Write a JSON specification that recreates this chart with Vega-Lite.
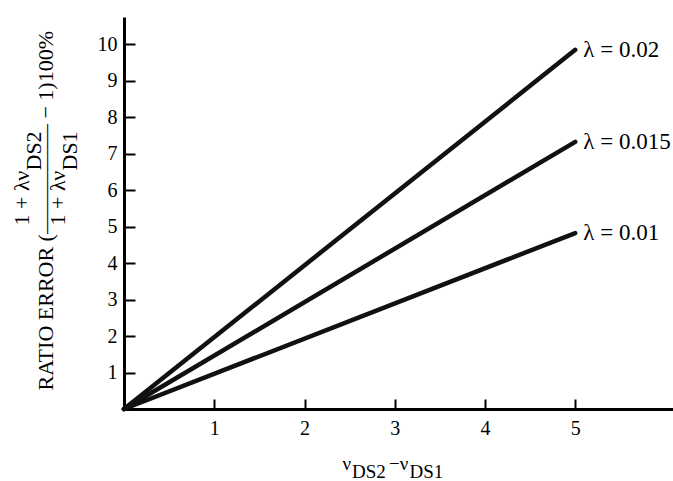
{
  "$schema": "https://vega.github.io/schema/vega-lite/v6.json",
  "autosize": {"type": "none"},
  "padding": {"left": 124, "top": 17, "right": 0, "bottom": 72},
  "width": 549,
  "height": 392,
  "background": "white",
  "config": {
    "view": {"stroke": null},
    "axis": {
      "grid": false,
      "domainColor": "black",
      "tickColor": "black",
      "labelColor": "black",
      "titleColor": "black",
      "labelFont": "Liberation Serif",
      "titleFont": "Liberation Serif",
      "labelFontSize": 20,
      "titleFontWeight": "normal"
    }
  },
  "data": {
    "values": [
      {"x": 0, "y": 0, "lam": "λ = 0.02"},
      {"x": 5, "y": 9.84, "lam": "λ = 0.02"},
      {"x": 0, "y": 0, "lam": "λ = 0.015"},
      {"x": 5, "y": 7.32, "lam": "λ = 0.015"},
      {"x": 0, "y": 0, "lam": "λ = 0.01"},
      {"x": 5, "y": 4.82, "lam": "λ = 0.01"}
    ]
  },
  "layer": [
    {
      "mark": {"type": "line", "color": "#111111", "strokeWidth": 4.5, "strokeCap": "round"},
      "encoding": {
        "x": {
          "field": "x", "type": "quantitative",
          "scale": {"domain": [0, 6.083], "nice": false, "zero": false},
          "axis": {
            "values": [1, 2, 3, 4, 5],
            "format": "d",
            "tickSize": -10,
            "tickWidth": 2,
            "domainWidth": 3,
            "labelPadding": 19,
            "labelFlush": false,
            "title": ["ν\u00a0\u00a0\u00a0\u00a0\u00a0\u00a0\u00a0\u00a0−ν", "\u200b\u00a0\u00a0DS2\u00a0\u00a0\u00a0\u00a0\u00a0DS1"],
            "titleFontSize": 19,
            "titleAlign": "left",
            "titleAnchor": "start",
            "titleBaseline": "alphabetic",
            "titleLineHeight": 8,
            "titleX": 218,
            "titleY": 60,
            "titleAngle": 0
          }
        },
        "y": {
          "field": "y", "type": "quantitative",
          "scale": {"domain": [0, 10.74], "nice": false, "zero": false},
          "axis": {
            "values": [1, 2, 3, 4, 5, 6, 7, 8, 9, 10],
            "format": "d",
            "tickSize": -11,
            "tickWidth": 2,
            "domainWidth": 3,
            "labelPadding": 18,
            "labelFlush": false,
            "title": [
              "\u200b\u00a0\u00a0\u00a0\u00a0\u00a0\u00a0\u00a0\u00a0\u00a0\u00a0\u00a0\u00a0\u00a0\u00a0\u00a0\u00a0\u00a0\u00a0\u00a0\u00a0\u00a0\u00a0\u00a0\u00a0\u00a0\u00a0\u00a0\u00a0\u00a0\u00a01 + λν",
              "\u200b\u00a0\u00a0\u00a0\u00a0\u00a0\u00a0\u00a0\u00a0\u00a0\u00a0\u00a0\u00a0\u00a0\u00a0\u00a0\u00a0\u00a0\u00a0\u00a0\u00a0\u00a0\u00a0\u00a0\u00a0\u00a0\u00a0\u00a0\u00a0\u00a0\u00a0\u00a0\u00a0\u00a0\u00a0\u00a0\u00a0\u00a0\u00a0\u00a0\u00a0DS2",
              "RATIO ERROR (————— − 1)100%",
              "\u200b\u00a0\u00a0\u00a0\u00a0\u00a0\u00a0\u00a0\u00a0\u00a0\u00a0\u00a0\u00a0\u00a0\u00a0\u00a0\u00a0\u00a0\u00a0\u00a0\u00a0\u00a0\u00a0\u00a0\u00a0\u00a0\u00a0\u00a0\u00a0\u00a0\u00a01 + λν",
              "\u200b\u00a0\u00a0\u00a0\u00a0\u00a0\u00a0\u00a0\u00a0\u00a0\u00a0\u00a0\u00a0\u00a0\u00a0\u00a0\u00a0\u00a0\u00a0\u00a0\u00a0\u00a0\u00a0\u00a0\u00a0\u00a0\u00a0\u00a0\u00a0\u00a0\u00a0\u00a0\u00a0\u00a0\u00a0\u00a0\u00a0\u00a0\u00a0\u00a0\u00a0DS1"
            ],
            "titleFontSize": 22,
            "titleAlign": "left",
            "titleAnchor": "start",
            "titleBaseline": "alphabetic",
            "titleLineHeight": 12,
            "titleAngle": 270,
            "titleX": -96,
            "titleY": 373
          }
        },
        "detail": {"field": "lam", "type": "nominal"}
      }
    },
    {
      "transform": [{"filter": "datum.x == 5"}],
      "mark": {
        "type": "text", "align": "left", "baseline": "middle", "dx": 8,
        "font": "Liberation Serif", "fontSize": 23, "color": "black"
      },
      "encoding": {
        "x": {"field": "x", "type": "quantitative"},
        "y": {"field": "y", "type": "quantitative"},
        "text": {"field": "lam"}
      }
    }
  ]
}
